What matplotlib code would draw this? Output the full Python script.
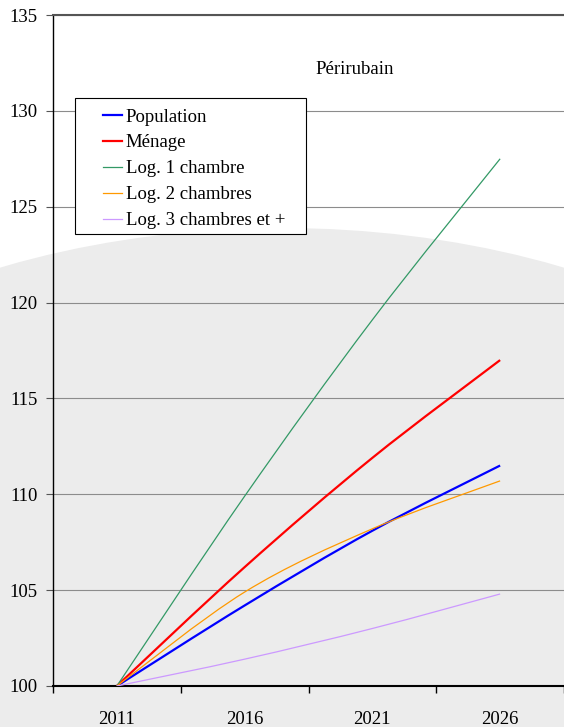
import numpy as np
import matplotlib.pyplot as plt
from matplotlib.path import Path
from matplotlib.patches import PathPatch, Ellipse, Rectangle
from matplotlib.lines import Line2D

plt.rcParams['font.family'] = ['Liberation Serif', 'DejaVu Serif']

# Données (indice base 100 en 2011)
years = ['2011', '2016', '2021', '2026']
population = [100, 104.2, 108.1, 111.5]
menage = [100, 106.2, 111.9, 117.0]
log_1ch = [100, 109.9, 119.1, 127.5]
log_2ch = [100, 104.9, 108.2, 110.7]
log_3ch = [100, 101.4, 103.0, 104.8]

labels = ['Population', 'Ménage', 'Log. 1 chambre', 'Log. 2 chambres', 'Log. 3 chambres et +']
colors = ['#0000ff', '#ff0000', '#339966', '#ff9900', '#cc99ff']
widths = [1.6, 1.6, 0.9, 0.9, 0.9]
series = [population, menage, log_1ch, log_2ch, log_3ch]

FS = 13.5


# Courbe lissée (bezier, comme Excel)
def smooth_path(y):
    pts = np.column_stack([np.arange(len(y)), y]).astype(float)
    padded = np.vstack([pts[0], pts, pts[-1]])
    verts = [pts[0]]
    codes = [Path.MOVETO]
    for i in range(len(pts) - 1):
        p_prev, p0, p1, p_next = padded[i], padded[i + 1], padded[i + 2], padded[i + 3]
        verts += [p0 + (p1 - p_prev) / 6, p1 - (p_next - p0) / 6, p1]
        codes += [Path.CURVE4] * 3
    return Path(verts, codes)


W, H = 564, 727
fig = plt.figure(figsize=(W / 100, H / 100), dpi=100)

# Fond gris arrondi
bg = fig.add_axes([0, 0, 1, 1])
bg.set_xlim(0, W)
bg.set_ylim(H, 0)
bg.axis('off')
bg.add_patch(Ellipse((282, 228 + 400), 1300, 800, color='#ececec', lw=0))

# Axes principaux
ax = fig.add_axes([53 / W, (H - 686) / H, (W - 53) / W, 671 / H])
ax.set_facecolor('none')
for vals, c, lw in zip(series, colors, widths):
    ax.add_patch(PathPatch(smooth_path(vals), fc='none', ec=c, lw=lw, zorder=3))

ax.set_ylim(100, 135)
ax.set_yticks(range(100, 136, 5))
ax.set_xlim(-0.5, -0.5 + (W - 53) / 129.2)
ax.set_xticks(range(len(years)))
ax.set_xticklabels(years)
ax.set_xticks(np.arange(-0.5, 3.6, 1), minor=True)
ax.tick_params(axis='x', which='major', length=0, pad=18, labelsize=FS)
ax.tick_params(axis='x', which='minor', length=5, width=1, color='black')
ax.tick_params(axis='y', length=5, width=0.8, color='#555555', pad=6, labelsize=FS)
ax.grid(axis='y', color='#8c8c8c', lw=0.8)
ax.set_axisbelow(True)
ax.spines['right'].set_visible(False)
ax.spines['top'].set_color('#555555')
ax.spines['top'].set_linewidth(1.5)
ax.spines['left'].set_linewidth(1.0)
ax.spines['bottom'].set_linewidth(1.5)

# Titre
fig.text(355 / W, 1 - 70 / H, 'Périrubain', ha='center', va='center', fontsize=FS)

# Légende avec cadre
fig.add_artist(Rectangle((75 / W, 1 - 234 / H), 231 / W, 136 / H, transform=fig.transFigure,
                         fc='white', ec='black', lw=0.8, zorder=3))
handles = [Line2D([], [], color=c, lw=lw) for c, lw in zip(colors, widths)]
fig.legend(handles, labels, loc='upper left', bbox_to_anchor=(94 / W, 1 - 99 / H),
           frameon=False, borderpad=0, handlelength=0.98, handletextpad=0.22,
           labelspacing=0.47, fontsize=FS)

fig.savefig('out.png', dpi=100)
